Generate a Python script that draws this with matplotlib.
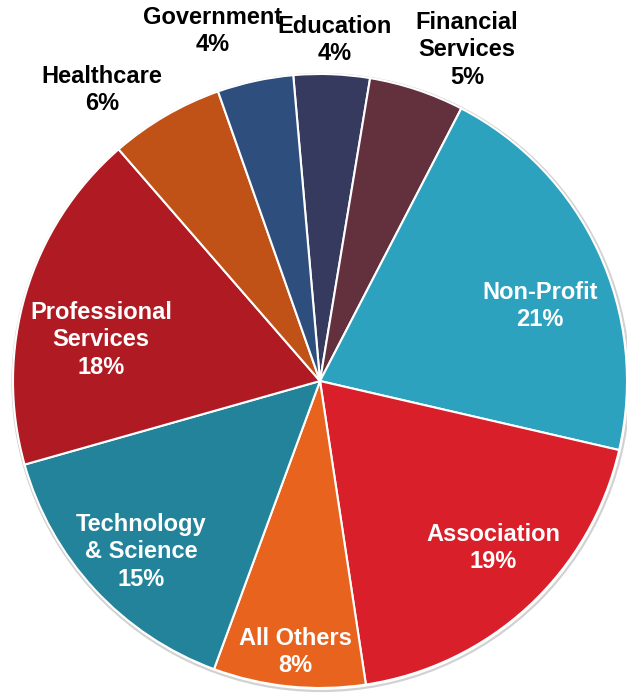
import matplotlib
matplotlib.use("Agg")
import matplotlib.pyplot as plt
from matplotlib.patches import Circle

# Share of clients by sector
sectors = ["Education", "Financial\nServices", "Non-Profit", "Association",
           "All Others", "Technology\n& Science", "Professional\nServices",
           "Healthcare", "Government"]
shares = [4, 5, 21, 19, 8, 15, 18, 6, 4]
colors = ["#373a5f", "#63303e", "#2ca2bf", "#d81f2a", "#e8641e",
          "#23839a", "#b01a22", "#c05217", "#2e4f7d"]
text_colors = ["black", "black", "white", "white", "white",
               "white", "white", "black", "black"]
# label block centres, in pixels from the top-left corner
label_xy = [(335, 40), (467, 50), (540, 306), (493, 548), (295, 652),
            (141, 552), (101, 340), (102, 90), (213, 31)]

W, H = 627, 693
fig = plt.figure(figsize=(W / 100, H / 100), dpi=100)
ax = fig.add_axes([0, 0, 1, 1])

cx, cy, r = 320, H - 381, 307

# faint rim around the pie
ax.add_patch(Circle((cx + 1, cy - 1.5), r + 1.5, facecolor="none",
                    edgecolor="#d2d2d2", lw=1.6, zorder=0))

ax.pie(shares, colors=colors, startangle=95, counterclock=False,
       center=(cx, cy), radius=r, frame=True,
       wedgeprops=dict(edgecolor="white", linewidth=1.5))
ax.set_xlim(0, W)
ax.set_ylim(0, H)
ax.set_aspect("equal")
ax.axis("off")

for name, val, tc, (x, y) in zip(sectors, shares, text_colors, label_xy):
    ax.text(x, H - y, f"{name}\n{val}%", ha="center", va="center",
            multialignment="center", color=tc, fontsize=17,
            fontweight="bold", family="Liberation Sans", linespacing=1.23)

fig.savefig("out.png", dpi=100)
